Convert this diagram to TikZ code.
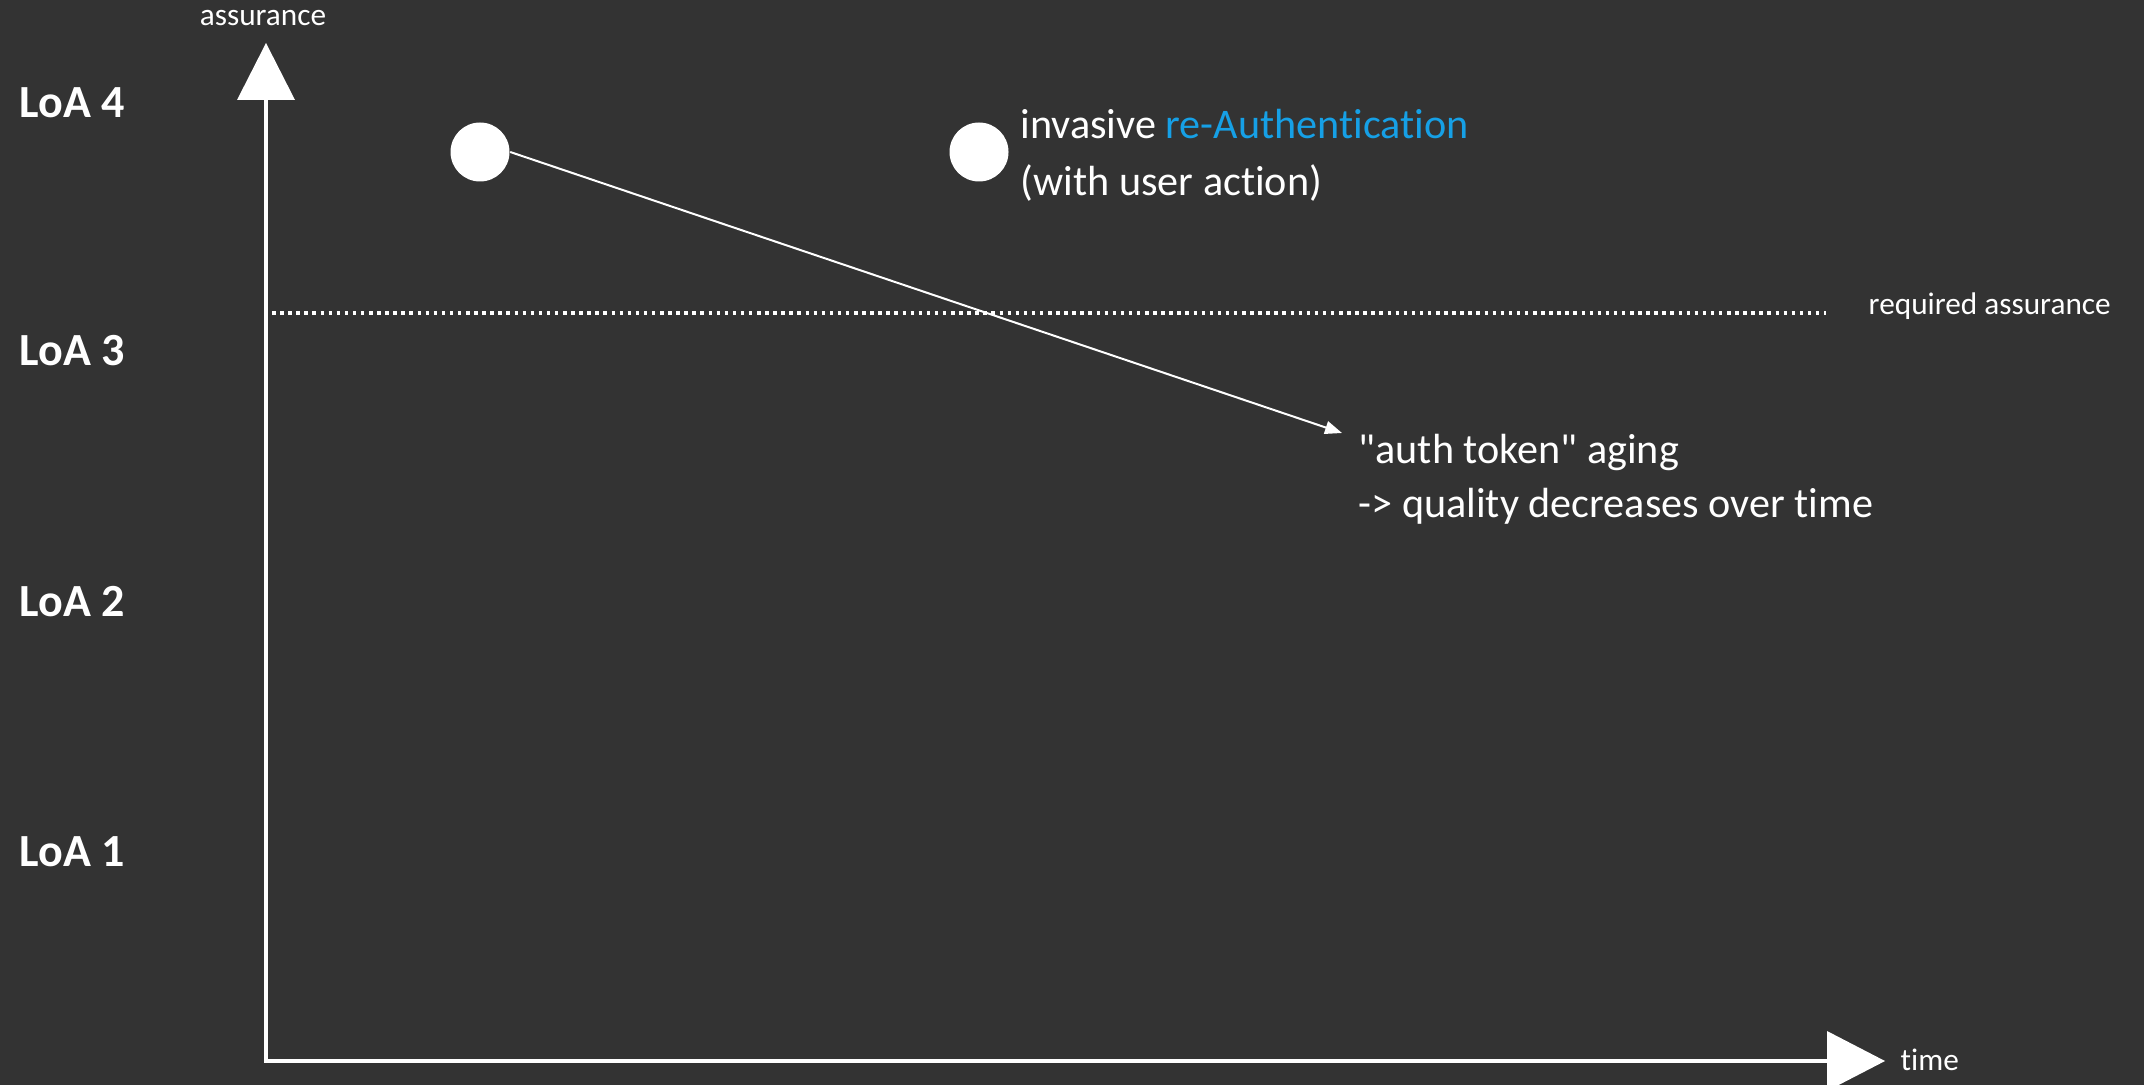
\documentclass[tikz,border=0pt]{standalone}
\usepackage{fontspec}
\setmainfont{Carlito}[Ligatures={TeXOff,CommonOff}]
\usetikzlibrary{arrows.meta}
\definecolor{bg}{RGB}{51,51,51}
\definecolor{linkblue}{RGB}{22,160,230}
\tikzset{
  lbl/.style={text=white, inner sep=0pt, anchor=base west},
  level/.style={lbl, font=\fontsize{13.1}{15}\selectfont\bfseries},
  note/.style={lbl, font=\fontsize{12}{14}\selectfont},
  axislabel/.style={lbl, font=\fontsize{8.9}{10}\selectfont},
  axisline/.style={draw=white, line width=1.1pt},
  axishead/.style={fill=white},
  dot/.style={circle, fill=white, minimum size=5.9mm, inner sep=0pt},
  trend/.style={draw=white, line width=0.57pt, -{Triangle[length=1.7mm,width=1.3mm]}},
  threshold/.style={draw=white, line width=1pt, dash pattern=on 1pt off 1.3pt}
}
\begin{document}
\begin{tikzpicture}[x=0.1mm,y=-0.1mm]
\useasboundingbox (0,0) rectangle (2144,1085);
\fill[bg] (0,0) rectangle (2144,1085);

% axes
\coordinate (origin) at (266,1061);
\coordinate (ytop) at (266,100);
\coordinate (xend) at (1827,1061);
\draw[axisline] (ytop) -- (origin) -- (xend);
\fill[axishead] (237,100) -- (266,43) -- (295,100) -- cycle;
\fill[axishead] (1827,1031) -- (1885,1061) -- (1827,1091) -- cycle;
\node[axislabel, anchor=base] (ylab) at (263,26) {assurance};
\node[axislabel] (xlab) at (1900,1070) {time};

% assurance levels
\node[level] (loa4) at (19,118) {LoA 4};
\node[level] (loa3) at (19,366) {LoA 3};
\node[level] (loa2) at (19,616) {LoA 2};
\node[level] (loa1) at (19,866) {LoA 1};

% required assurance threshold
\coordinate (reqL) at (272,313);
\coordinate (reqR) at (1826,313);
\draw[threshold] (reqL) -- (reqR);
\node[axislabel] (reqlab) at (1868,315) {required assurance};

% authentication events
\node[dot] (d1) at (480,152) {};
\node[dot] (d2) at (979,152) {};
\node[note] (inv1) at (1020,139) {invasive \textcolor{linkblue}{re-Authentication}};
\node[note] (inv2) at (1020,196) {(with user action)};

% token aging
\coordinate (tip) at (1342,433);
\draw[trend] (d1.east) -- (tip);
\node[note] (age1) at (1358,463) {"auth token" aging};
\node[note] (age2) at (1358,517) {-> quality decreases over time};
\end{tikzpicture}
\end{document}
